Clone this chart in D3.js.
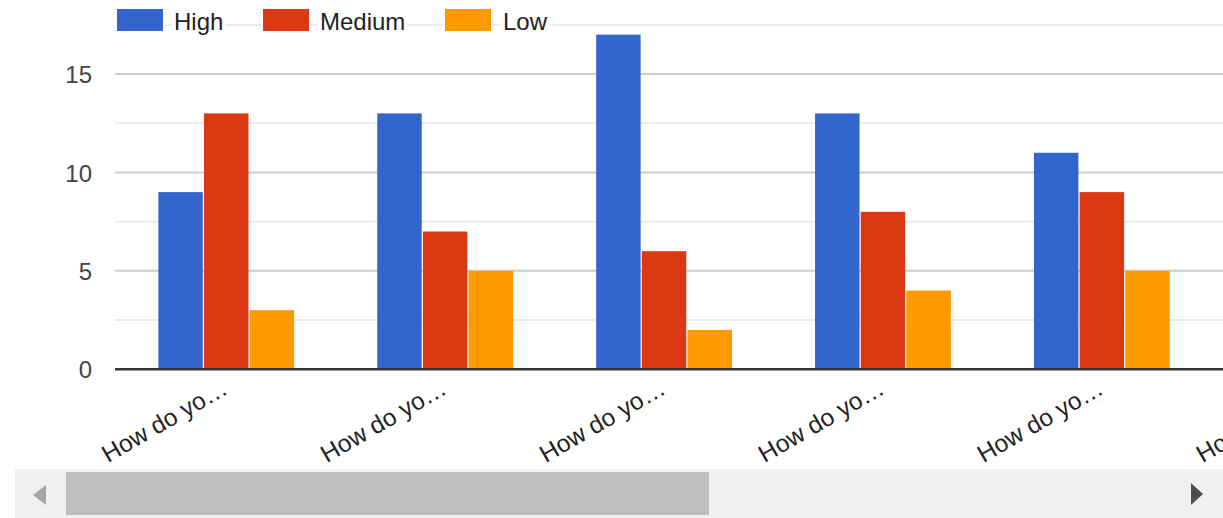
<!DOCTYPE html>
<html><head><meta charset="utf-8">
<script src="https://cdn.jsdelivr.net/npm/d3@7"></script>
<style>html,body{margin:0;padding:0;background:#fff;overflow:hidden}</style>
</head><body>
<svg id="c" width="1223" height="518"></svg>
<script>
const categories = ["How do yo…","How do yo…","How do yo…","How do yo…","How do yo…","How do yo…"];
const series = ["High","Medium","Low"];
const colors = ["#3366cc","#dc3912","#ff9900"];
const high   = [9, 13, 17, 13, 11];
const medium = [13, 7, 6, 8, 9];
const low    = [3, 5, 2, 4, 5];
const yTicks = [0, 5, 10, 15];
const yMinor = [2.5, 7.5, 12.5, 17.5];

const values = [high, medium, low];
const svg = d3.select("#c");
const W = 1223;
const font = "Arial, 'Liberation Sans', sans-serif";
const left = 115;

const y = d3.scaleLinear().domain([0, 17.5]).range([369.3, 24.8]);
const idx = categories.map((d,i)=>i);
const step = 218.9;
const x0 = d3.scaleBand().domain(idx).range([117.4, 117.4 + step*categories.length]).padding(0);
const groupW = 137;
const x1 = d3.scaleBand().domain(series).range([0, groupW]);

// gridlines
svg.append("g").selectAll("line").data(yMinor).join("line")
  .attr("x1", left).attr("x2", W).attr("y1", d=>y(d)).attr("y2", d=>y(d))
  .attr("stroke", "#ebebeb").attr("stroke-width", 2);
svg.append("g").selectAll("line").data(yTicks.filter(d=>d>0)).join("line")
  .attr("x1", left).attr("x2", W).attr("y1", d=>y(d)).attr("y2", d=>y(d))
  .attr("stroke", "#cccccc").attr("stroke-width", 2);

// y tick labels
const yAxis = d3.axisLeft(y).tickValues(yTicks).tickSize(0).tickPadding(0);
const ga = svg.append("g").attr("transform", "translate(92,0)").call(yAxis);
ga.select(".domain").remove();
ga.selectAll("text").attr("font-family", font).attr("font-size", 24).attr("fill", "#444").attr("dy", "0.36em");

// bars
series.forEach((s, si) => {
  svg.append("g").selectAll("rect").data(values[si]).join("rect")
    .attr("x", (d,i) => x0(i) + (x0.bandwidth()-groupW)/2 + x1(s))
    .attr("width", x1.bandwidth() - 1.2)
    .attr("y", d => y(d))
    .attr("height", d => y(0) - y(d))
    .attr("fill", colors[si]);
});

// baseline
svg.append("line").attr("x1", left).attr("x2", W).attr("y1", y(0)).attr("y2", y(0))
  .attr("stroke", "#333").attr("stroke-width", 2.6);

// x labels
svg.append("g").selectAll("text").data(idx).join("text")
  .attr("transform", i => `translate(${x0(i) + x0.bandwidth()/2 + 2.5},393) rotate(-30)`)
  .attr("text-anchor", "end")
  .attr("font-family", font).attr("font-size", 24.5).attr("fill", "#222")
  .text(i => categories[i]);

// legend
const legend = [{x:117, tx:174},{x:263, tx:320},{x:445, tx:503}];
series.forEach((s, si) => {
  const g = svg.append("g");
  const t = g.append("text").attr("x", legend[si].tx).attr("y", 29.5)
    .attr("font-family", font).attr("font-size", 24).attr("fill", "#222").text(s);
  const bb = t.node().getBBox();
  g.insert("rect", "text").attr("x", bb.x - 2).attr("y", bb.y).attr("width", bb.width + 4).attr("height", bb.height).attr("fill", "#fff");
  g.append("rect").attr("x", legend[si].x - 2).attr("y", 7).attr("width", 50).attr("height", 26).attr("fill", "#fff");
  g.append("rect").attr("x", legend[si].x).attr("y", 9).attr("width", 46).attr("height", 22).attr("fill", colors[si]);
});

// scrollbar
svg.append("rect").attr("x", 15).attr("y", 469).attr("width", W - 15).attr("height", 49).attr("fill", "#f0f0f0");
svg.append("rect").attr("x", 66).attr("y", 472).attr("width", 643).attr("height", 43).attr("fill", "#bfbfbf");
svg.append("path").attr("d", "M46,485 L46,505 L33,495 Z").attr("fill", "#a6a6a6");
svg.append("path").attr("d", "M1191,483 L1191,505 L1203,494 Z").attr("fill", "#4d4d4d");
</script>
</body></html>
